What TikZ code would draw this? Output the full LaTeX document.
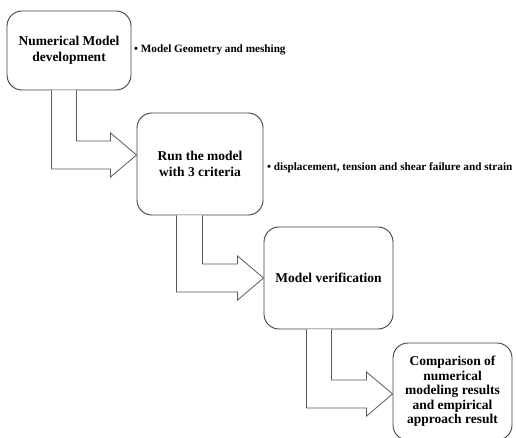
\documentclass[tikz,border=0pt]{standalone}
\usepackage{fontspec}
\setmainfont{Liberation Serif}
\usetikzlibrary{calc}

\definecolor{boxline}{rgb}{0.25,0.25,0.25}
\definecolor{arrowline}{rgb}{0.35,0.35,0.35}

\tikzset{
  stepbox/.style={draw=boxline, line width=0.9pt, rounded corners=15pt, fill=white,
    align=center, inner sep=2pt, font=\fontsize{13.5}{16}\selectfont\bfseries},
  note/.style={anchor=west, inner sep=0pt, font=\fontsize{11.2}{13}\selectfont\bfseries},
  flowarrow/.style={draw=arrowline, line width=0.8pt, fill=white, line join=miter}
}

\begin{document}
\begin{tikzpicture}[x=1pt,y=-1pt]
\useasboundingbox (0,0) rectangle (516,438);

% boxes
\node[stepbox, minimum width=124pt, minimum height=79pt] (num) at (69,50.5) {Numerical Model\\development};
\node[stepbox, minimum width=126pt, minimum height=102pt] (run) at (200,164) {Run the model\\with 3 criteria};
\node[stepbox, minimum width=129pt, minimum height=102pt] (ver) at (328.5,278) {Model verification};
\node[stepbox, minimum width=119pt, minimum height=97pt,
  font=\fontsize{13.5}{14.5}\selectfont\bfseries] (cmp) at (452.5,391.5)
  {Comparison of\\numerical\\modeling results\\and empirical\\approach result};

% notes
\node[note] (geo) at (134,50) {\textbullet\ Model Geometry and meshing};
\node[note] (crit) at (267,168) {\textbullet\ displacement, tension and shear failure and strain};

% arrow tips
\coordinate (tip1) at ($(run.west)+(0,-9)$);
\coordinate (tip2) at (ver.west);
\coordinate (tip3) at ($(cmp.west)+(0,2.5)$);

% block arrows
\draw[flowarrow] ($(num.south west)+(45,0)$) |- ($(tip1)+(-26,14)$) -- ++(0,8) -- (tip1)
  -- ++(-26,-22) -- ++(0,8) -| ($(num.south west)+(70,0)$);
\draw[flowarrow] ($(run.south west)+(40,0)$) |- ($(tip2)+(-26,14)$) -- ++(0,8) -- (tip2)
  -- ++(-26,-22) -- ++(0,8) -| ($(run.south west)+(66,0)$);
\draw[flowarrow] ($(ver.south west)+(43,0)$) |- ($(tip3)+(-26,14)$) -- ++(0,8) -- (tip3)
  -- ++(-26,-22) -- ++(0,8) -| ($(ver.south west)+(68,0)$);
\end{tikzpicture}
\end{document}
